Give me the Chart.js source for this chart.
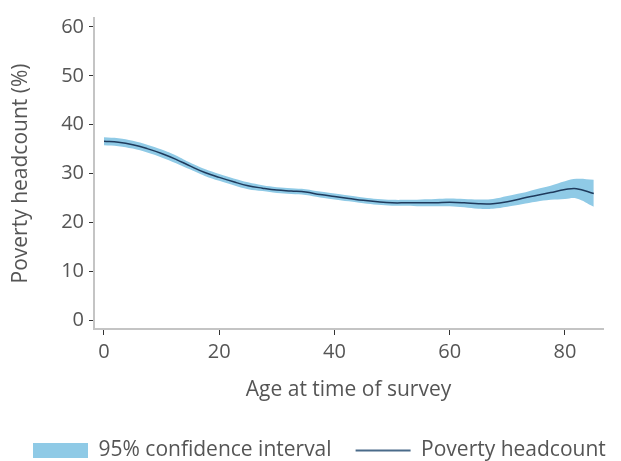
<!DOCTYPE html>
<html>
<head>
<meta charset="utf-8">
<script src="https://cdn.jsdelivr.net/npm/chart.js@4/dist/chart.umd.min.js"></script>
<style>
  html, body { margin: 0; padding: 0; background: #ffffff; }
  #wrap { width: 621px; height: 461px; position: relative; }
</style>
</head>
<body>
<div id="wrap"><canvas id="c" width="621" height="461"></canvas></div>
<script>
const ages      = [0, 2.5, 5, 7.5, 10, 12.5, 15, 17.5, 20, 22.5, 25, 27.5, 30, 32.5, 35, 37.5, 40, 42.5, 45, 47.5, 50, 52.5, 55, 57.5, 60, 62.5, 65, 67.5, 70, 72.5, 75, 77.5, 80, 82, 85];
const headcount = [36.6, 36.4, 35.9, 35.1, 34.1, 32.9, 31.5, 30.2, 29.2, 28.3, 27.5, 27.0, 26.6, 26.4, 26.2, 25.7, 25.3, 24.9, 24.5, 24.2, 24.0, 24.0, 24.0, 24.0, 24.1, 24.0, 23.8, 23.8, 24.2, 24.9, 25.5, 26.1, 26.7, 26.9, 25.9];
const ciUpper   = [37.4, 37.2, 36.7, 35.9, 34.9, 33.7, 32.2, 30.9, 29.9, 29.0, 28.2, 27.6, 27.2, 27.0, 26.8, 26.3, 25.9, 25.5, 25.1, 24.8, 24.6, 24.6, 24.7, 24.8, 24.9, 24.8, 24.7, 24.8, 25.4, 26.0, 26.8, 27.5, 28.4, 28.9, 28.7];
const ciLower   = [35.8, 35.6, 35.1, 34.3, 33.3, 32.1, 30.8, 29.5, 28.5, 27.6, 26.8, 26.4, 26.0, 25.8, 25.6, 25.1, 24.7, 24.3, 23.9, 23.6, 23.4, 23.4, 23.3, 23.3, 23.3, 23.1, 22.8, 22.8, 23.2, 23.7, 24.2, 24.6, 24.8, 24.9, 23.2];
const xTicks = [0, 20, 40, 60, 80];
const yTicks = [0, 10, 20, 30, 40, 50, 60];

const bandColor = '#8fcae6';
const lineColor = '#1f3a5c';
const textColor = '#555555';
const fontFamily = "'Open Sans', 'DejaVu Sans', sans-serif";

const pts = (ys) => ages.map((a, i) => ({ x: a, y: ys[i] }));

// nudge the legend row to the right (layout tweak only)
const legendShift = {
  id: 'legendShift',
  afterLayout(chart) {
    const lg = chart.legend;
    if (lg) { lg.left += 9; lg.right += 9; }
  }
};

new Chart(document.getElementById('c'), {
  type: 'line',
  plugins: [legendShift],
  data: {
    datasets: [
      {
        label: 'Poverty headcount',
        data: pts(headcount),
        borderColor: lineColor,
        borderWidth: 1.5,
        pointRadius: 0,
        tension: 0.4,
        fill: false,
        order: 0
      },
      {
        label: '95% confidence interval',
        data: pts(ciUpper),
        borderWidth: 0,
        borderColor: 'rgba(0,0,0,0)',
        backgroundColor: bandColor,
        pointRadius: 0,
        tension: 0.4,
        fill: false,
        order: 1
      },
      {
        label: 'ci-lower',
        data: pts(ciLower),
        borderWidth: 0,
        borderColor: 'rgba(0,0,0,0)',
        backgroundColor: bandColor,
        pointRadius: 0,
        tension: 0.4,
        fill: { target: '-1' },
        order: 2
      }
    ]
  },
  options: {
    responsive: false,
    animation: false,
    devicePixelRatio: 1,
    layout: { padding: { top: 18, right: 0, left: 0, bottom: -10 } },
    scales: {
      x: {
        type: 'linear',
        min: -1.735,
        max: 86.6,
        afterBuildTicks: (s) => { s.ticks = xTicks.map(v => ({ value: v })); },
        afterFit: (s) => { s.height = 87; },
        grid: { display: true, drawOnChartArea: false, drawTicks: true, tickLength: 6, tickColor: '#333333', tickWidth: 1 },
        border: { display: true, color: '#c4c4c4', width: 2 },
        ticks: { color: textColor, font: { family: fontFamily, size: 20 }, padding: 5, maxRotation: 0 },
        title: { display: true, text: 'Age at time of survey', color: textColor, font: { family: fontFamily, size: 21 }, padding: { top: 0, bottom: 13 } }
      },
      y: {
        type: 'linear',
        min: -1.84,
        max: 61.84,
        afterBuildTicks: (s) => { s.ticks = yTicks.map(v => ({ value: v })); },
        afterFit: (s) => { s.width = 94; },
        grid: { display: true, drawOnChartArea: false, drawTicks: true, tickLength: 5, tickColor: '#333333', tickWidth: 1 },
        border: { display: true, color: '#c4c4c4', width: 2 },
        ticks: { color: textColor, font: { family: fontFamily, size: 20 }, padding: 5 },
        title: { display: true, text: 'Poverty headcount (%)', color: textColor, font: { family: fontFamily, size: 21 }, padding: { top: 8, bottom: 0 } }
      },
      rightPad: {
        type: 'linear',
        position: 'right',
        display: true,
        grid: { display: false, drawTicks: false },
        border: { display: false },
        ticks: { display: false },
        afterFit: (s) => { s.width = 18; }
      }
    },
    plugins: {
      tooltip: { enabled: false },
      legend: {
        display: true,
        position: 'bottom',
        align: 'start',
        labels: {
          color: textColor,
          font: { family: fontFamily, size: 21 },
          usePointStyle: true,
          pointStyleWidth: 55,
          boxHeight: 15,
          padding: 24,
          generateLabels: () => ([
            { text: '95% confidence interval', fillStyle: bandColor, strokeStyle: bandColor, lineWidth: 0, pointStyle: 'rect', fontColor: textColor, datasetIndex: 1 },
            { text: 'Poverty headcount', fillStyle: 'rgba(0,0,0,0)', strokeStyle: '#4a6b8a', lineWidth: 2, pointStyle: 'line', fontColor: textColor, datasetIndex: 0 }
          ])
        }
      }
    }
  }
});
</script>
</body>
</html>
